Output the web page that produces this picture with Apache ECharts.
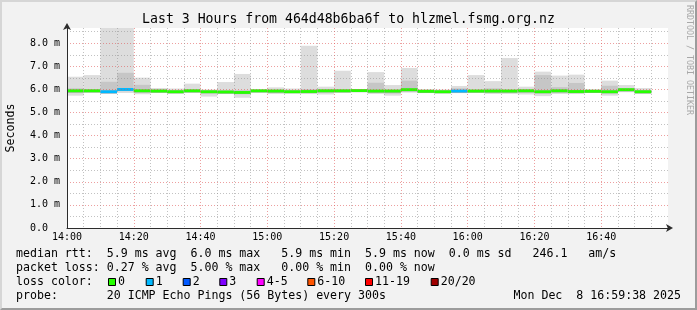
<!DOCTYPE html>
<html><head><meta charset="utf-8">
<script src="https://cdn.jsdelivr.net/npm/echarts@6/dist/echarts.min.js"></script>
<style>
html,body{margin:0;padding:0;background:#f2f2f2;}
#wrap{position:relative;width:697px;height:310px;overflow:hidden;}
#chart{position:absolute;left:0;top:0;width:697px;height:310px;}
#frame{position:absolute;left:0;top:0;width:697px;height:310px;box-sizing:border-box;border:2px solid;border-color:#d6d6d6 #9c9c9c #9c9c9c #d6d6d6;pointer-events:none;}
</style></head><body>
<div id="wrap"><div id="chart"></div><div id="frame"></div></div>
<script>
// ---- data (minutes after 14:00, 5-minute steps; RTT in ms) ----
const intervalStart = [0,5,10,15,20,25,30,35,40,45,50,55,60,65,70,75,80,85,90,95,100,105,110,115,120,125,130,135,140,145,150,155,160,165,170];
const minRtt    = [5.73,5.86,5.80,5.85,5.79,5.86,5.82,5.85,5.69,5.80,5.64,5.86,5.80,5.85,5.80,5.78,5.86,5.90,5.80,5.73,5.86,5.84,5.84,5.84,5.86,5.80,5.80,5.78,5.71,5.80,5.80,5.86,5.73,5.88,5.80];
const lowRtt    = [5.85,5.90,5.88,5.95,5.88,5.90,5.88,5.90,5.85,5.86,5.80,5.90,5.88,5.88,5.85,5.88,5.90,5.92,5.88,5.82,5.92,5.88,5.88,5.88,5.90,5.88,5.88,5.88,5.85,5.88,5.88,5.90,5.85,5.92,5.86];
const highRtt   = [6.05,6.00,6.33,6.72,6.20,6.02,5.98,6.00,5.96,5.96,5.97,5.98,6.00,5.98,6.02,6.00,6.00,6.00,6.29,6.00,6.38,5.98,5.97,6.05,6.00,6.05,6.00,6.00,6.62,6.10,6.28,5.98,6.16,6.05,5.98];
const maxRtt    = [6.55,6.62,9.50,9.80,6.51,6.06,6.04,6.25,6.00,6.32,6.67,6.00,6.09,6.04,7.89,6.12,6.81,6.02,6.75,6.19,6.93,6.02,6.00,6.15,6.62,6.36,7.36,6.12,6.77,6.60,6.64,6.02,6.38,6.19,6.06];
const medianRtt = [5.94,5.94,5.90,6.00,5.94,5.93,5.90,5.94,5.90,5.89,5.87,5.94,5.93,5.90,5.91,5.94,5.94,5.95,5.93,5.93,5.99,5.92,5.90,5.93,5.93,5.93,5.93,5.94,5.90,5.94,5.91,5.92,5.90,5.99,5.90];
const lossCount = [0,0,1,1,0,0,0,0,0,0,0,0,0,0,0,0,0,0,0,0,0,0,0,1,0,0,0,0,0,0,0,0,0,0,0];

const xTickLabels = ['14:00','14:20','14:40','15:00','15:20','15:40','16:00','16:20','16:40'];
const lossLabels = ['0','1','2','3','4-5','6-10','11-19','20/20'];
const lossColors = ['#26ff00','#00b8ff','#0059ff','#7e00ff','#ff00ff','#ff5500','#ff0000','#a00000'];
const lossUpper  = [0,1,2,3,5,10,19,20];

const titleText = 'Last 3 Hours from 464d48b6ba6f to hlzmel.fsmg.org.nz';
const legendLine1 = 'median rtt:  5.9 ms avg  6.0 ms max   5.9 ms min  5.9 ms now  0.0 ms sd   246.1   am/s';
const legendLine2 = 'packet loss: 0.27 % avg  5.00 % max   0.00 % min  0.00 % now';
const legendLine3 = 'loss color:';
const legendLine4 = 'probe:       20 ICMP Echo Pings (56 Bytes) every 300s';
const dateText = 'Mon Dec  8 16:59:38 2025';
const sideText = 'RRDTOOL / TOBI OETIKER';

// ---- layout / style ----
const STEP = 5, X_MAX = 180, Y_MAX = 8.66;
const MONO = '"DejaVu Sans Mono", monospace';
const MAJ = 'rgba(222,80,80,0.55)';
const MIN = 'rgba(143,143,143,0.55)';

function lossIndex(n){ for (let i=0;i<lossUpper.length;i++){ if (n<=lossUpper[i]) return i; } return lossUpper.length-1; }

const data = intervalStart.map((t,i)=>[t, minRtt[i], lowRtt[i], highRtt[i], maxRtt[i], medianRtt[i], lossCount[i]]);

const chart = echarts.init(document.getElementById('chart'), null, {renderer:'canvas'});

const legendBoxX = [108,145.7,182.7,219.3,256.7,307.3,365,430.7];
const graphics = [
  {type:'text', x:16, y:254, style:{text:legendLine1, fontFamily:MONO, fontSize:11.6, fill:'#000', verticalAlign:'middle'}},
  {type:'text', x:16, y:268, style:{text:legendLine2, fontFamily:MONO, fontSize:11.6, fill:'#000', verticalAlign:'middle'}},
  {type:'text', x:16, y:282, style:{text:legendLine3, fontFamily:MONO, fontSize:11.6, fill:'#000', verticalAlign:'middle'}},
  {type:'text', x:16, y:296, style:{text:legendLine4, fontFamily:MONO, fontSize:11.6, fill:'#000', verticalAlign:'middle'}},
  {type:'text', x:681, y:296, style:{text:dateText, fontFamily:MONO, fontSize:11.6, fill:'#000', verticalAlign:'middle', align:'right'}},
  {type:'text', x:689, y:5, rotation:-Math.PI/2, style:{text:sideText, fontFamily:MONO, fontSize:8.3, fill:'#a8a8a8', verticalAlign:'middle', align:'left'}}
];
lossLabels.forEach((lab,i)=>{
  graphics.push({type:'rect', shape:{x:legendBoxX[i]+0.5, y:278.5, width:7, height:7}, style:{fill:lossColors[i], stroke:'#000', lineWidth:1}});
  graphics.push({type:'text', x:legendBoxX[i]+10, y:282, style:{text:lab, fontFamily:MONO, fontSize:11.6, fill:'#000', verticalAlign:'middle'}});
});

const option = {
  animation:false,
  backgroundColor:'#f2f2f2',
  title:{text:titleText, left:'center', top:13, padding:0, textStyle:{fontFamily:MONO, fontSize:13.2, fontWeight:'normal', color:'#000'}},
  grid:{left:67, right:29, top:28, bottom:82, show:true, backgroundColor:'#ffffff', borderWidth:0, containLabel:false, outerBoundsMode:'none'},
  xAxis:{type:'value', min:0, max:X_MAX, interval:STEP, z:3,
    axisLine:{show:true, onZero:false, lineStyle:{color:'#2c2c2c', width:1}, symbol:['none','arrow'], symbolSize:[6,7], symbolOffset:[0,5]},
    axisTick:{show:false},
    axisLabel:{formatter:v=> (v%20===0 && v<X_MAX) ? xTickLabels[v/20] : '', fontFamily:MONO, fontSize:10, color:'#000', margin:4},
    splitLine:{show:true, showMaxLine:false, lineStyle:{color:[MAJ,MIN,MIN,MIN], type:[1,2], width:1}}
  },
  yAxis:{type:'value', min:0, max:Y_MAX, interval:0.5, z:3,
    name:'Seconds', nameLocation:'middle', nameGap:50, nameTextStyle:{fontFamily:MONO, fontSize:11.6, color:'#000'},
    axisLine:{show:true, onZero:false, lineStyle:{color:'#2c2c2c', width:1}, symbol:['none','arrow'], symbolSize:[6,7], symbolOffset:[0,5]},
    axisTick:{show:false},
    axisLabel:{formatter:v=> v===0 ? '0.0  ' : (Number.isInteger(v) ? v.toFixed(1)+' m' : ''), fontFamily:MONO, fontSize:10, color:'#000', margin:7},
    splitLine:{show:true, showMaxLine:false, lineStyle:{color:[MAJ,MIN], type:[1,2], width:1}}
  },
  series:[{
    type:'custom', z:2, silent:true, clip:true,
    data:data,
    encode:{x:0, y:[1,4]},
    renderItem:function(params, api){
      const t = api.value(0);
      const mn = api.value(1), q1 = api.value(2), q3 = api.value(3), mx = api.value(4), md = api.value(5), loss = api.value(6);
      const cl = v => Math.max(0, Math.min(v, Y_MAX));
      const x0 = api.coord([t, 0])[0], x1 = api.coord([t+STEP, 0])[0];
      const py = v => api.coord([t, cl(v)])[1];
      const band = (a,b,fill) => ({type:'rect', shape:{x:x0, y:py(b), width:x1-x0, height:py(a)-py(b)}, style:{fill:fill}});
      const my = py(md);
      return {type:'group', children:[
        band(mn, mx, '#dddddd'),
        band(q1, q3, '#c6c6c6'),
        band(md-0.07, md+0.05, '#9c9c9c'),
        {type:'rect', shape:{x:x0, y:my-1.4, width:x1-x0, height:2.8}, style:{fill:lossColors[lossIndex(loss)]}}
      ]};
    }
  }],
  graphic:graphics
};
chart.setOption(option);
</script>
</body></html>
